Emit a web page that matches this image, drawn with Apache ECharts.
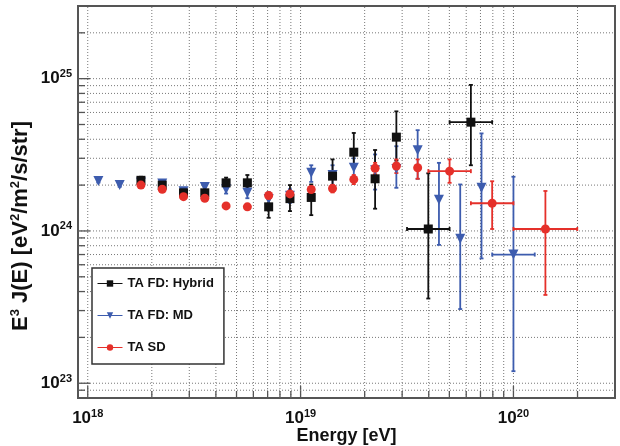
<!DOCTYPE html>
<html><head><meta charset="utf-8">
<script src="https://cdn.jsdelivr.net/npm/echarts@6/dist/echarts.min.js"></script>
<style>html,body{margin:0;padding:0;background:#fff}#c{width:620px;height:446px}</style>
</head><body><div id="c"></div>
<script>
// ---- Data (E in eV, E^3 J(E) in eV^2/m^2/s/str) ----
const hybridE  = [1.778e18, 2.239e18, 2.818e18, 3.548e18, 4.467e18, 5.623e18, 7.079e18, 8.913e18, 1.122e19, 1.413e19, 1.778e19, 2.239e19, 2.818e19, 3.981e19, 6.310e19];
const hybridJ  = [2.15e24, 2.00e24, 1.78e24, 1.78e24, 2.07e24, 2.07e24, 1.44e24, 1.63e24, 1.66e24, 2.29e24, 3.29e24, 2.20e24, 4.13e24, 1.03e24, 5.18e24];
const hybridLo = [2.05e24, 1.90e24, 1.68e24, 1.62e24, 1.90e24, 1.85e24, 1.22e24, 1.35e24, 1.27e24, 1.94e24, 2.65e24, 1.40e24, 2.90e24, 3.6e23, 2.70e24];
const hybridHi = [2.27e24, 2.10e24, 1.90e24, 1.95e24, 2.24e24, 2.33e24, 1.61e24, 2.00e24, 2.02e24, 2.95e24, 4.40e24, 3.40e24, 6.10e24, 2.39e24, 9.10e24];
const hybridXLo = [null, null, null, null, null, null, null, null, null, null, null, null, null, 3.162e19, 5.012e19];
const hybridXHi = [null, null, null, null, null, null, null, null, null, null, null, null, null, 5.012e19, 7.943e19];

const mdE  = [1.122e18, 1.413e18, 1.778e18, 2.239e18, 2.818e18, 3.548e18, 4.467e18, 5.623e18, 7.079e18, 8.913e18, 1.122e19, 1.413e19, 1.778e19, 2.239e19, 2.818e19, 3.548e19, 4.467e19, 5.623e19, 7.079e19, 1.000e20];
const mdJ  = [2.13e24, 2.00e24, 2.08e24, 2.05e24, 1.82e24, 1.94e24, 1.88e24, 1.78e24, 1.62e24, 1.70e24, 2.41e24, 2.33e24, 2.60e24, 2.50e24, 2.55e24, 3.39e24, 1.60e24, 8.9e23, 1.92e24, 7.0e23];
const mdLo = [2.08e24, 1.95e24, 2.02e24, 1.98e24, 1.74e24, 1.84e24, 1.76e24, 1.64e24, 1.45e24, 1.53e24, 2.10e24, 2.00e24, 2.20e24, 1.87e24, 1.92e24, 2.20e24, 8.1e23, 3.07e23, 6.6e23, 1.2e23];
const mdHi = [2.18e24, 2.05e24, 2.14e24, 2.12e24, 1.90e24, 2.05e24, 2.02e24, 1.94e24, 1.80e24, 1.88e24, 2.70e24, 2.70e24, 3.00e24, 3.18e24, 3.60e24, 4.59e24, 2.80e24, 2.02e24, 4.37e24, 2.27e24];
const mdXLo = [null, null, null, null, null, null, null, null, null, null, null, null, null, null, null, null, null, null, null, 7.943e19];
const mdXHi = [null, null, null, null, null, null, null, null, null, null, null, null, null, null, null, null, null, null, null, 1.259e20];

const sdE  = [1.778e18, 2.239e18, 2.818e18, 3.548e18, 4.467e18, 5.623e18, 7.079e18, 8.913e18, 1.122e19, 1.413e19, 1.778e19, 2.239e19, 2.818e19, 3.548e19, 5.012e19, 7.943e19, 1.413e20];
const sdJ  = [2.00e24, 1.88e24, 1.68e24, 1.64e24, 1.46e24, 1.44e24, 1.71e24, 1.75e24, 1.87e24, 1.90e24, 2.18e24, 2.58e24, 2.67e24, 2.60e24, 2.47e24, 1.52e24, 1.03e24];
const sdLo = [1.96e24, 1.84e24, 1.64e24, 1.60e24, 1.42e24, 1.39e24, 1.64e24, 1.67e24, 1.78e24, 1.79e24, 2.03e24, 2.36e24, 2.40e24, 2.20e24, 2.07e24, 1.03e24, 3.8e23];
const sdHi = [2.04e24, 1.92e24, 1.72e24, 1.68e24, 1.50e24, 1.49e24, 1.78e24, 1.83e24, 1.96e24, 2.01e24, 2.33e24, 2.80e24, 2.95e24, 2.95e24, 2.95e24, 2.12e24, 1.83e24];
const sdXLo = [null, null, null, null, null, null, null, null, null, null, null, null, null, null, 3.981e19, 6.310e19, 1.000e20];
const sdXHi = [null, null, null, null, null, null, null, null, null, null, null, null, null, null, 6.310e19, 1.000e20, 1.995e20];

// axis extents and grid/tick values
const xMin = 9e17, xMax = 3e20;
const yMin = 8e22, yMax = 3e25;
const gridX = [1e18,2e18,3e18,4e18,5e18,6e18,7e18,8e18,9e18,1e19,2e19,3e19,4e19,5e19,6e19,7e19,8e19,9e19,1e20,2e20];
const gridY = [9e22,1e23,2e23,3e23,4e23,5e23,6e23,7e23,8e23,9e23,1e24,2e24,3e24,4e24,5e24,6e24,7e24,8e24,9e24,1e25,2e25];

const FONT = '"Liberation Sans", Arial, Helvetica, sans-serif';
const names = ['TA FD: Hybrid', 'TA FD: MD', 'TA SD'];
const colors = ['#111111', '#3d5cae', '#e5302a'];

function isDecade(v) { const l = Math.log10(v); return Math.abs(l - Math.round(l)) < 1e-6; }

function supLabel(v) {
  if (!isDecade(v)) return '';
  return '{b|10}{s|' + Math.round(Math.log10(v)) + '}';
}
const richLab = {
  b: { fontSize: 17, fontWeight: 'bold', fontFamily: FONT, color: '#111', lineHeight: 20 },
  s: { fontSize: 11, fontWeight: 'bold', fontFamily: FONT, color: '#111', lineHeight: 12, verticalAlign: 'top' }
};

function zip(a, b, c, d, e, f) {
  return a.map((v, i) => [v, b[i], c[i], d[i], (e && e[i]) || 0, (f && f[i]) || 0]);
}

function errRender(color, lw) {
  return function (params, api) {
    const x = api.value(0), ylo = api.value(2), yhi = api.value(3), xlo = api.value(4), xhi = api.value(5), y = api.value(1);
    const ch = [];
    const st = { stroke: color, lineWidth: lw };
    const a = api.coord([x, ylo]), b = api.coord([x, yhi]);
    ch.push({ type: 'line', shape: { x1: a[0], y1: a[1], x2: b[0], y2: b[1] }, style: st });
    ch.push({ type: 'line', shape: { x1: a[0] - 2, y1: a[1], x2: a[0] + 2, y2: a[1] }, style: st });
    ch.push({ type: 'line', shape: { x1: b[0] - 2, y1: b[1], x2: b[0] + 2, y2: b[1] }, style: st });
    if (xlo > 0 && xhi > 0) {
      const c = api.coord([xlo, y]), d = api.coord([xhi, y]);
      ch.push({ type: 'line', shape: { x1: c[0], y1: c[1], x2: d[0], y2: d[1] }, style: st });
      ch.push({ type: 'line', shape: { x1: c[0], y1: c[1] - 2, x2: c[0], y2: c[1] + 2 }, style: st });
      ch.push({ type: 'line', shape: { x1: d[0], y1: d[1] - 2, x2: d[0], y2: d[1] + 2 }, style: st });
    }
    return { type: 'group', children: ch };
  };
}

const gridStyle = { stroke: '#777', lineWidth: 1, lineDash: [1, 2] };
const tickStyle = { stroke: '#555', lineWidth: 1.3 };

const chart = echarts.init(document.getElementById('c'), null, { renderer: 'canvas' });
chart.setOption({
  animation: false,
  backgroundColor: '#fff',
  grid: { left: 78, right: 5, top: 6, bottom: 48, show: true, borderColor: '#555', borderWidth: 2, backgroundColor: '#fff',
          containLabel: false, outerBoundsMode: 'none' },
  xAxis: {
    type: 'log', logBase: 10, min: xMin, max: xMax,
    axisLine: { show: false }, axisTick: { show: false }, splitLine: { show: false },
    axisLabel: { formatter: supLabel, rich: richLab, margin: 10, interval: 0 },
    name: 'Energy [eV]', nameLocation: 'middle', nameGap: 28, nameMoveOverlap: false,
    nameTextStyle: { fontSize: 18, fontWeight: 'bold', fontFamily: FONT, color: '#111', lineHeight: 20 }
  },
  yAxis: {
    type: 'log', logBase: 10, min: yMin, max: yMax,
    axisLine: { show: false }, axisTick: { show: false }, splitLine: { show: false },
    axisLabel: { formatter: supLabel, rich: richLab, margin: 6, interval: 0 }
  },
  graphic: [{
    type: 'text', x: 21, y: 226, rotation: Math.PI / 2,
    style: {
      text: '{b|E}{s|3}{b| J(E) [eV}{s|2}{b|/m}{s|2}{b|/s/str]}',
      align: 'center', verticalAlign: 'middle',
      rich: {
        b: { fontSize: 22, fontWeight: 'bold', fontFamily: FONT, fill: '#111', lineHeight: 25 },
        s: { fontSize: 13, fontWeight: 'bold', fontFamily: FONT, fill: '#111', lineHeight: 14, verticalAlign: 'top' }
      }
    }
  }],
  legend: {
    data: names, orient: 'vertical', left: 92, top: 268,
    itemGap: 19, itemWidth: 25, itemHeight: 8,
    padding: [9, 10, 10, 5],
    backgroundColor: '#fff', borderColor: '#333', borderWidth: 1.5,
    textStyle: { fontSize: 13, fontWeight: 'bold', fontFamily: FONT, color: '#111' },
    lineStyle: { width: 1, opacity: 1 },
    z: 10
  },
  series: [
    { type: 'custom', silent: true, z: 1, data: gridX.map(v => [v, yMin]), encode: { x: 0, y: 1 },
      renderItem: function (p, api) {
        const v = api.value(0);
        const a = api.coord([v, yMin]), b = api.coord([v, yMax]);
        const len = isDecade(v) ? 12 : 7;
        return { type: 'group', children: [
          { type: 'line', shape: { x1: a[0], y1: a[1], x2: b[0], y2: b[1] }, style: gridStyle },
          { type: 'line', shape: { x1: a[0], y1: a[1], x2: a[0], y2: a[1] - len }, style: tickStyle }
        ] };
      } },
    { type: 'custom', silent: true, z: 1, data: gridY.map(v => [xMin, v]), encode: { x: 0, y: 1 },
      renderItem: function (p, api) {
        const v = api.value(1);
        const a = api.coord([xMin, v]), b = api.coord([xMax, v]);
        const len = isDecade(v) ? 12 : 7;
        return { type: 'group', children: [
          { type: 'line', shape: { x1: a[0], y1: a[1], x2: b[0], y2: b[1] }, style: gridStyle },
          { type: 'line', shape: { x1: a[0], y1: a[1], x2: a[0] + len, y2: a[1] }, style: tickStyle }
        ] };
      } },
    { type: 'custom', silent: true, z: 3, data: zip(mdE, mdJ, mdLo, mdHi, mdXLo, mdXHi), encode: { x: 0, y: 1 }, renderItem: errRender(colors[1], 1.8) },
    { type: 'custom', silent: true, z: 3, data: zip(hybridE, hybridJ, hybridLo, hybridHi, hybridXLo, hybridXHi), encode: { x: 0, y: 1 }, renderItem: errRender(colors[0], 1.8) },
    { type: 'custom', silent: true, z: 3, data: zip(sdE, sdJ, sdLo, sdHi, sdXLo, sdXHi), encode: { x: 0, y: 1 }, renderItem: errRender(colors[2], 1.8) },
    { name: names[1], type: 'line', z: 4, data: mdE.map((v, i) => [v, mdJ[i]]), symbol: 'triangle', symbolRotate: 180, symbolSize: 10, showAllSymbol: true,
      itemStyle: { color: colors[1] }, lineStyle: { opacity: 0, width: 0, color: colors[1] } },
    { name: names[0], type: 'line', z: 5, data: hybridE.map((v, i) => [v, hybridJ[i]]), symbol: 'rect', symbolSize: 9, showAllSymbol: true,
      itemStyle: { color: colors[0] }, lineStyle: { opacity: 0, width: 0, color: colors[0] } },
    { name: names[2], type: 'line', z: 6, data: sdE.map((v, i) => [v, sdJ[i]]), symbol: 'circle', symbolSize: 9, showAllSymbol: true,
      itemStyle: { color: colors[2] }, lineStyle: { opacity: 0, width: 0, color: colors[2] } }
  ]
});
</script>
</body></html>
